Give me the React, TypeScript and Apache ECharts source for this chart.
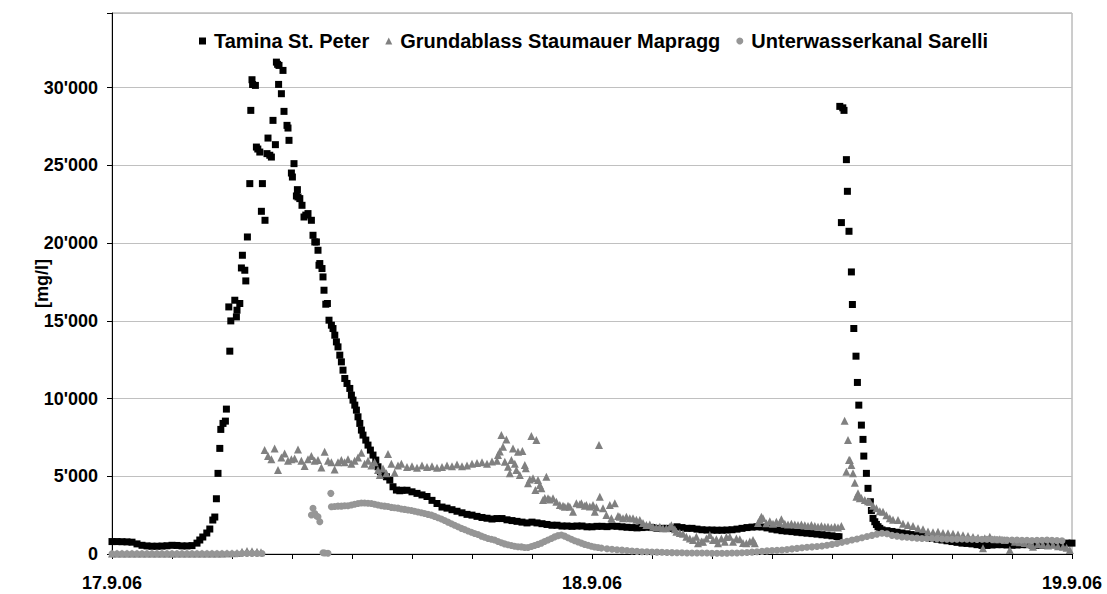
import React, { useEffect, useRef } from "react";
import * as echarts from "echarts";

// hours since 17.9.06 00:00, concentration [mg/l]
const seriesNames = ["Tamina St. Peter", "Grundablass Staumauer Mapragg", "Unterwasserkanal Sarelli"];
const dateLabels: Record<number, string> = { 0: "17.9.06", 24: "18.9.06", 48: "19.9.06" };

const tamina: [number, number][] = [
  [0,800],[0.25,800],[0.5,790],[0.75,780],[1,760],[1.25,650],[1.5,560],[1.75,520],[2,500],[2.25,500],[2.5,510],[2.75,530],[3,560],[3.25,550],[3.5,520],[3.75,520],[4,540],[4.25,700],
  [4.39,900],[4.54,1093],[4.74,1350],[4.89,1607],[5.04,2185],[5.14,2378],[5.22,3554],[5.3,5187],[5.39,6793],[5.44,8014],[5.55,8400],[5.67,8548],[5.72,9320],[5.84,15894],[5.89,13047],[5.94,14994],[6.14,16324],[6.22,15251],[6.25,15682],[6.39,16112],[6.47,18400],[6.52,19217],[6.64,18253],[6.69,17566],[6.77,20393],[6.89,23825],[6.94,28536],[7.0,30508],[7.03,30200],[7.17,30143],[7.22,26177],[7.29,26050],[7.39,25856],[7.47,22044],[7.52,23825],[7.65,21466],[7.75,25754],[7.8,26755],[7.89,25650],[7.97,25534],[8.05,27893],[8.17,26331],[8.22,31640],[8.28,31500],[8.33,30207],[8.35,31428],[8.47,29608],[8.55,31107],[8.6,28472],[8.75,27572],[8.8,27400],[8.85,26608],[8.97,24506],[9.02,24249],[9.1,25110],[9.22,23030],[9.27,23437],[9.3,22965],[9.39,22861],[9.5,22430],[9.6,21678],[9.69,21800],[9.8,21897],[9.97,21466],[10.05,20502],[10.14,20072],[10.22,20072],[10.3,19538],[10.35,18574],[10.39,18683],[10.5,18362],[10.55,17823],[10.6,16967],[10.69,16068],[10.77,16112],[10.85,15039],[10.97,14718],[11.05,14503],[11.14,14075],[11.22,13645],[11.3,13324],[11.39,12790],[11.47,12359],[11.55,11826],[11.64,11292],[11.75,10971],[11.89,10650],[11.97,10219],[12.05,9898],[12.14,9576],[12.22,9255],[12.3,8824],[12.39,8400],[12.47,7970],[12.55,7648],[12.69,7327],[12.8,7005],[12.92,6684],[13.05,6363],[13.19,6041],[13.3,5611],[13.42,5290],[13.55,5077],[13.72,4968],[13.89,4756],[14.05,4325],[14.22,4113],[14.39,4068],
  [14.5,4100],[14.75,4100],[15,4000],[15.25,3900],[15.5,3800],[15.75,3700],[16,3450],[16.25,3250],[16.5,3020],[16.75,2950],[17,2850],[17.25,2750],[17.5,2650],[17.75,2550],[18,2500],[18.25,2420],[18.5,2350],[18.75,2300],[19,2250],[19.25,2280],[19.5,2280],[19.75,2200],[20,2150],[20.25,2100],[20.5,2050],[20.75,2000],[21,2050],[21.25,2000],[21.5,1950],[21.75,1900],[22,1850],[22.25,1850],[22.5,1800],[22.75,1800],[23,1780],[23.25,1800],[23.5,1800],[23.75,1750],[24,1750],[24.25,1780],[24.5,1780],[24.75,1760],[25,1800],[25.25,1780],[25.5,1750],[25.75,1720],[26,1700],[26.25,1680],[26.5,1700],[26.75,1720],[27,1700],[27.25,1650],[27.5,1650],[27.75,1650],[28,1650],[28.25,1750],[28.5,1700],[28.75,1650],[29,1650],[29.25,1600],[29.5,1560],[29.75,1540],[30,1540],[30.25,1530],[30.5,1530],[30.75,1540],[31,1560],[31.25,1600],[31.5,1650],[31.75,1700],[32,1730],[32.25,1750],[32.5,1740],[32.75,1680],[33,1600],[33.25,1550],[33.5,1500],[33.75,1470],[34,1440],[34.25,1400],[34.5,1370],[34.75,1340],[35,1310],[35.25,1280],[35.5,1240],[35.75,1210],[36,1170],[36.25,1120],[36.35,1110],
  [36.39,28793],[36.47,21318],[36.54,28700],[36.6,28536],[36.72,25367],[36.77,23330],[36.85,20759],[36.97,18144],[37.02,16048],[37.09,14505],[37.2,12725],[37.27,11035],[37.34,9576],[37.47,8291],[37.55,7372],[37.59,6299],[37.72,5187],[37.8,4223],[37.92,3361],[37.97,2800],[38.05,2294],[38.14,2076],[38.22,1900],[38.3,1756],[38.39,1650],
  [38.5,1550],[38.75,1500],[39,1450],[39.25,1400],[39.5,1350],[39.75,1300],[40,1250],[40.25,1200],[40.5,1150],[40.75,1100],[41,1000],[41.25,950],[41.5,900],[41.75,850],[42,800],[42.25,750],[42.5,700],[42.75,680],[43,650],[43.25,600],[43.5,550],[43.75,550],[44,580],[44.25,600],[44.5,600],[44.75,580],[45,560],[45.25,580],[45.5,600],[45.75,600],[46,580],[46.25,560],[46.5,560],[46.75,580],[47,600],[47.25,600],[47.5,620],[47.75,700],[48,700]
];

const grundablass: [number, number][] = [
  [0,40],[0.25,30],[0.5,30],[0.75,30],[1,30],[1.25,30],[1.5,30],[1.75,30],[2,30],[2.25,30],[2.5,30],[2.75,30],[3,30],[3.25,30],[3.5,30],[3.75,30],[4,30],[4.25,30],[4.5,30],[4.75,30],[5,40],[5.25,40],[5.5,40],[5.75,50],[6,50],[6.25,60],[6.5,150],[6.75,200],[7,180],[7.25,150],[7.45,120],
  [7.63,6684],[7.8,6300],[7.97,6100],[8.13,6793],[8.3,5400],[8.47,6200],[8.63,6470],[8.8,6000],[8.97,6100],[9.13,6150],[9.3,6730],[9.47,6000],[9.63,5655],[9.8,6100],[9.97,6300],[10.13,6000],[10.3,6050],[10.47,5570],[10.63,6575],[10.8,6000],[10.97,5900],[11.13,5440],[11.3,5900],[11.47,6050],[11.63,5900],[11.8,6100],[11.97,5800],[12.13,6000],[12.3,6200],[12.47,6510],[12.63,5800],[12.8,6000],[12.97,5700],[13.13,5900],[13.3,5400],[13.39,5077],[13.55,5500],[13.72,5187],[13.8,6427],[13.97,5800],[14.13,5225],[14.3,5700],[14.47,5800],
  [14.75,5600],[15,5650],[15.25,5550],[15.5,5700],[15.75,5600],[16,5650],[16.25,5550],[16.5,5600],[16.75,5700],[17,5650],[17.25,5750],[17.5,5650],[17.75,5700],[18,5800],[18.25,5850],[18.5,5900],[18.75,5800],[19,5950],[19.25,6000],
  [19.3,6363],[19.39,6600],[19.47,7648],[19.55,6900],[19.64,5930],[19.72,7370],[19.8,5611],[19.89,5187],[19.97,6041],[20.05,6793],[20.14,5800],[20.22,5400],[20.3,6575],[20.39,5077],[20.52,6620],[20.64,5720],[20.69,5508],[20.8,4544],[20.89,4800],[20.97,7584],[21.05,4865],[21.17,4113],[21.22,7327],[21.3,4756],[21.39,4435],[21.47,4223],[21.55,3470],[21.64,3600],[21.72,4968],[21.8,3580],[21.89,3500],[22.05,3580],[22.22,3361],[22.39,3150],[22.55,3100],[22.64,3040],[22.8,3100],[22.89,3040],[23.05,2719],[23.22,3259],[23.39,3200],[23.47,3259],[23.64,3100],[23.72,3150],[23.89,3050],[24.05,3150],[24.14,2719],[24.22,3000],[24.35,7005],[24.39,3683],[24.55,2937],[24.72,2506],[24.89,3150],[24.97,2294],[25.14,3259],[25.3,2450],[25.39,2397],[25.55,2300],[25.72,2397],[25.89,2300],[26.05,2294],[26.22,2200],[26.39,2185],[26.55,2000],[26.72,1864],[26.89,1900],[27.05,1756],[27.22,1700],[27.39,1756],[27.55,1650],[27.72,1650],[27.89,1750],[27.97,1850],[28.14,1600],[28.22,1435],[28.39,1350],[28.55,1300],[28.72,1113],[28.89,1000],[29.05,900],[29.22,1113],[29.3,688],[29.47,800],[29.55,790],[29.72,1000],[29.89,1221],[30.05,900],[30.22,950],[30.3,688],[30.47,1000],[30.64,790],[30.72,1100],[30.89,1113],[31.05,790],[31.22,1000],[31.39,950],[31.55,700],[31.72,688],[31.89,800],[32.05,900],[32.14,688],
  [32.3,2000],[32.39,2185],[32.47,2397],[32.55,2300],[32.72,1970],[32.89,2100],[33.05,1950],[33.22,2076],[33.39,2000],[33.47,2228],[33.64,1950],[33.8,1900],[33.97,1950],[34.14,1900],[34.3,1864],[34.47,1900],[34.64,1850],[34.8,1800],[34.97,1864],[35.14,1800],[35.3,1750],[35.47,1800],[35.64,1750],[35.8,1756],[35.97,1700],[36.14,1750],[36.3,1700],[36.47,1800],
  [36.63,8567],[36.72,5290],[36.8,7327],[36.85,6041],[36.89,6041],[36.97,5720],[37.05,5187],[37.14,4583],[37.22,3683],[37.3,3900],[37.39,3580],[37.47,3600],[37.64,3470],[37.8,3400],[37.89,3361],[38.05,3100],[38.22,2937],[38.39,2750],[38.55,2719],[38.72,2500],[38.89,2294],[39.05,2200],[39.3,2185],[39.55,1950],[39.8,1864],[40.05,1800],[40.3,1650],[40.55,1600],[40.8,1450],[41.05,1400],[41.3,1435],[41.55,1350],[41.8,1328],[42.05,1300],[42.3,1250],[42.55,1200],[42.8,1150],[43.05,1100],[43.3,1050],[43.55,364],[43.64,1009],[43.89,1113],[44.14,950],[44.39,945],[44.64,900],[44.89,257],[45.14,790],[45.39,750],[45.64,700],[45.89,650],[46.05,470],[46.3,650],[46.55,600],[46.8,550],[47.05,600],[47.3,500],[47.55,470],[47.73,400],[47.89,257]
];

const sarelli: [number, number][] = [
  [0,20],[0.25,20],[0.5,20],[0.75,20],[1,20],[1.25,20],[1.5,20],[1.75,20],[2,20],[2.25,20],[2.5,20],[2.75,20],[3,20],[3.25,20],[3.5,20],[3.75,20],[4,20],[4.25,20],[4.5,20],[4.75,20],[5,20],[5.25,20],[5.5,20],[5.75,20],[6,20],[6.25,20],[6.5,30],[6.75,40],[7,40],[7.25,30],[7.5,30],
  [9.97,2506],[10.05,2937],[10.14,2600],[10.22,2450],[10.3,2397],[10.39,2076],[10.55,84],[10.64,60],[10.8,45],[10.94,3900],
  [10.97,3040],[11.13,3060],[11.3,3080],[11.47,3080],[11.63,3100],[11.8,3100],[11.97,3150],[12.13,3200],[12.3,3250],[12.47,3280],[12.63,3280],[12.8,3260],[12.97,3250],[13.13,3200],[13.3,3150],[13.47,3100],[13.63,3080],[13.8,3050],[13.97,3000],[14.13,2980],[14.3,2950],[14.47,2900],[14.63,2870],[14.8,2830],[14.97,2800],[15.13,2750],[15.3,2700],[15.47,2650],[15.63,2600],[15.8,2550],[15.97,2500],[16.13,2420],[16.3,2330],[16.47,2250],[16.63,2150],[16.8,2050],[16.97,1950],[17.13,1850],[17.3,1750],[17.47,1650],[17.63,1570],[17.8,1480],[17.97,1400],[18.13,1320],[18.3,1250],[18.47,1150],[18.63,1080],[18.8,1000],[18.97,950],[19.13,900],[19.3,800],[19.47,720],[19.63,650],[19.8,600],[19.97,550],[20.13,500],[20.3,470],[20.47,460],[20.63,420],[20.8,420],[20.97,480],[21.13,550],[21.3,620],[21.47,700],[21.63,800],[21.8,900],[21.97,1000],[22.13,1100],[22.3,1180],[22.47,1221],[22.63,1150],[22.8,1050],[22.97,950],[23.13,850],[23.3,780],[23.47,700],[23.63,620],[23.8,560],[23.97,500],[24.13,450],[24.3,420],[24.47,380],
  [24.75,340],[25,300],[25.25,270],[25.5,250],[25.75,220],[26,190],[26.25,170],[26.5,150],[26.75,140],[27,130],[27.25,120],[27.5,110],[27.75,100],[28,90],[28.25,80],[28.5,80],[28.75,70],[29,70],[29.25,60],[29.5,60],[29.75,60],[30,50],[30.25,50],[30.5,50],[30.75,50],[31,60],[31.25,70],[31.5,80],[31.75,100],[32,120],[32.25,150],[32.5,170],[32.75,200],[33,220],[33.25,240],[33.5,260],[33.75,290],[34,330],[34.25,360],[34.5,400],[34.75,430],[35,460],[35.25,480],[35.5,520],[35.75,560],[36,620],[36.25,680],[36.5,750],[36.75,820],[37,900],[37.25,960],[37.5,1050],[37.75,1120],[38,1200],[38.25,1280],[38.5,1330],[38.75,1300],[39,1200],[39.25,1150],[39.5,1100],[39.75,1080],[40,1050],[40.25,1020],[40.5,1000],[40.75,1000],[41,1000],[41.25,980],[41.5,960],[41.75,950],[42,950],[42.25,950],[42.5,960],[42.75,950],[43,950],[43.25,940],[43.5,950],[43.75,950],[44,940],[44.25,930],[44.5,920],[44.75,900],[45,900],[45.25,900],[45.5,880],[45.75,880],[46,870],[46.25,880],[46.5,880],[46.75,900],[47,880],[47.25,860],[47.5,850]
];

const FONT = "'Liberation Sans', Arial, sans-serif";

function fmtThousands(v: number): string {
  const s = String(Math.round(v));
  return s.replace(/\B(?=(\d{3})+(?!\d))/g, "'");
}

export default function App() {
  const ref = useRef<HTMLDivElement>(null);
  useEffect(() => {
    if (!ref.current) return;
    const chart = echarts.init(ref.current, undefined, { renderer: "svg" });
    const symbols = ["rect", "triangle", "circle"];
    const sizes = [7, 8, 7];
    const colors = ["#000000", "#808080", "#969696"];
    const datasets = [tamina, grundablass, sarelli];
    chart.setOption({
      animation: false,
      backgroundColor: "#ffffff",
      textStyle: { fontFamily: FONT },
      grid: {
        left: 112,
        right: 35,
        top: 13,
        bottom: 40,
        show: true,
        borderColor: "#9a9a9a",
        borderWidth: 1,
      },
      legend: {
        top: 26,
        left: 194,
        itemWidth: 7,
        itemHeight: 7,
        itemGap: 16,
        textStyle: { fontFamily: FONT, fontWeight: "bold", fontSize: 20, color: "#000", padding: [0, 0, 0, 3] },
        data: seriesNames.map((n, i) => ({ name: n, icon: symbols[i] })),
      },
      xAxis: {
        type: "value",
        min: 0,
        max: 48,
        interval: 3,
        axisLine: { show: true, lineStyle: { color: "#000", width: 1 } },
        axisTick: { show: true, inside: false, length: 5, lineStyle: { color: "#000" } },
        splitLine: { show: false },
        axisLabel: {
          margin: 20,
          fontFamily: FONT,
          fontWeight: "bold",
          fontSize: 18,
          color: "#000",
          showMinLabel: true,
          showMaxLabel: true,
          formatter: (v: number) => dateLabels[v] ?? "",
        },
      },
      yAxis: {
        type: "value",
        min: 0,
        max: 34800,
        interval: 5000,
        name: "[mg/l]",
        nameLocation: "middle",
        nameGap: 61,
        nameMoveOverlap: false,
        nameTextStyle: { fontFamily: FONT, fontWeight: "bold", fontSize: 18, color: "#000" },
        axisLine: { show: true, lineStyle: { color: "#000", width: 1 } },
        axisTick: { show: true, inside: false, length: 5, lineStyle: { color: "#000" } },
        splitLine: { show: true, lineStyle: { color: "#c0c0c0", width: 1 } },
        axisLabel: {
          margin: 14,
          fontFamily: FONT,
          fontWeight: "bold",
          fontSize: 18,
          color: "#000",
          formatter: (v: number) => (v % 5000 === 0 ? fmtThousands(v) : ""),
        },
      },
      series: datasets.map((d, i) => ({
        name: seriesNames[i],
        type: "scatter",
        symbol: symbols[i],
        symbolSize: sizes[i],
        data: d,
        itemStyle: { color: colors[i], opacity: 1 },
        emphasis: { disabled: true },
        silent: true,
      })),
    });
    return () => chart.dispose();
  }, []);
  return (
    <div
      ref={ref}
      style={{ position: "absolute", left: 0, top: 0, width: 1107, height: 594, background: "#fff" }}
    />
  );
}
